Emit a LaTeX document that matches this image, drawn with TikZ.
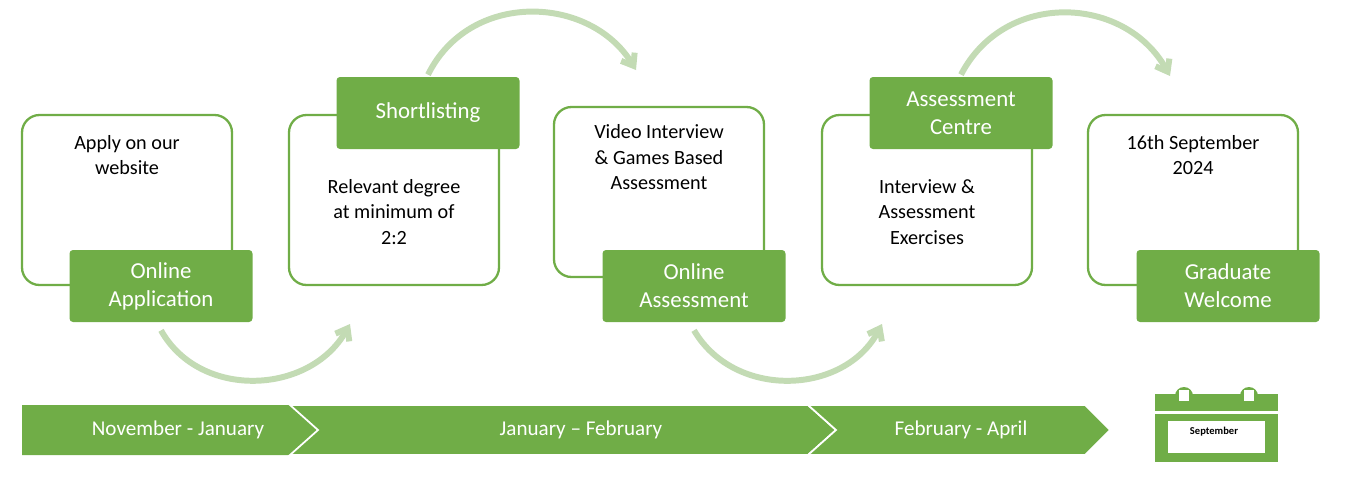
\documentclass[tikz,border=0pt]{standalone}
\usepackage{fontspec}
\setmainfont{Carlito}
\usetikzlibrary{arrows.meta}
\definecolor{leaf}{HTML}{70AD47}
\definecolor{paleleaf}{HTML}{C3DBB4}

\def\unitpx{*0.02cm}
\tikzset{
  card/.style={draw=leaf, line width=1.3pt, fill=white, rounded corners=10pt,
    minimum width=210\unitpx, minimum height=170\unitpx, align=center,
    font=\fontsize{11.5}{14.5}\selectfont},
  tag/.style={fill=leaf, text=white, rounded corners=2pt, align=center,
    minimum width=183\unitpx, minimum height=72\unitpx,
    font=\fontsize{13}{16}\selectfont},
  hop/.style={paleleaf, line width=3.4pt, -{Straight Barb[length=6pt,width=9pt]}},
  stage/.style={fill=leaf, draw=white, line width=1pt},
  when/.style={text=white, font=\fontsize{12}{14}\selectfont}
}

\begin{document}
\begin{tikzpicture}[x=0.02cm, y=-0.02cm]
  \useasboundingbox (0,0) rectangle (1347,487);

  % cards and tags
  \node [card] (c1) at (127,200) {Apply on our\\website\\[3.2em]};
  \node [card] (c2) at (394,200) {\\[0.6em]Relevant degree\\at minimum of\\2:2};
  \node [card] (c3) at (659,192) {Video Interview\\\& Games Based\\Assessment\\[2.2em]};
  \node [card] (c4) at (927,200) {\\[0.6em]Interview \&\\Assessment\\Exercises};
  \node [card] (c5) at (1193,200) {16th September\\2024\\[3.2em]};

  \node [tag] (t1) at (161,286) {Online\\Application};
  \node [tag] (t2) at (428,113) {Shortlisting};
  \node [tag] (t3) at (694,286) {Online\\Assessment};
  \node [tag] (t4) at (961,113) {Assessment\\Centre};
  \node [tag] (t5) at (1228,286) {Graduate\\Welcome};

  % arcs between stages
  \coordinate (h1) at (350,324);
  \coordinate (h2) at (636,70);
  \coordinate (h3) at (882,324);
  \coordinate (h4) at (1170,76);
  \draw [hop] ([yshift=-8\unitpx]t1.south) .. controls (200,400) and (310,395) .. (h1);
  \draw [hop] ([yshift=2\unitpx]t2.north) .. controls (470,-10) and (590,-5) .. (h2);
  \draw [hop] ([yshift=-8\unitpx]t3.south) .. controls (735,400) and (845,395) .. (h3);
  \draw [hop] ([yshift=2\unitpx]t4.north) .. controls (1005,-10) and (1125,-5) .. (h4);

  % timeline
  \fill [leaf] (22,405) -- (290,405) -- (318,430) -- (290,455) -- (22,455) -- cycle;
  \draw [stage] (290,405) -- (808,405) -- (836,430) -- (808,455) -- (290,455) -- (318,430) -- cycle;
  \draw [stage] (808,405) -- (1085,405) -- (1110,430) -- (1085,455) -- (808,455) -- (836,430) -- cycle;
  \node [when] (m1) at (178,430) {November - January};
  \node [when] (m2) at (581,430) {January – February};
  \node [when] (m3) at (961,430) {February - April};

  % calendar
  \fill [leaf] (1155,394) rectangle (1278,411);
  \fill [leaf] (1155,414) rectangle (1278,462);
  \fill [white] (1168,421) rectangle (1265,453);
  \foreach \tabx in {1184,1249} {
    \fill [leaf] (\tabx,396) circle (9\unitpx);
    \fill [white] (\tabx-5,390) rectangle (\tabx+5,401);
  }
  \node [font=\fontsize{6}{7}\bfseries\selectfont] (cal) at (1214,432) {September};
\end{tikzpicture}
\end{document}
